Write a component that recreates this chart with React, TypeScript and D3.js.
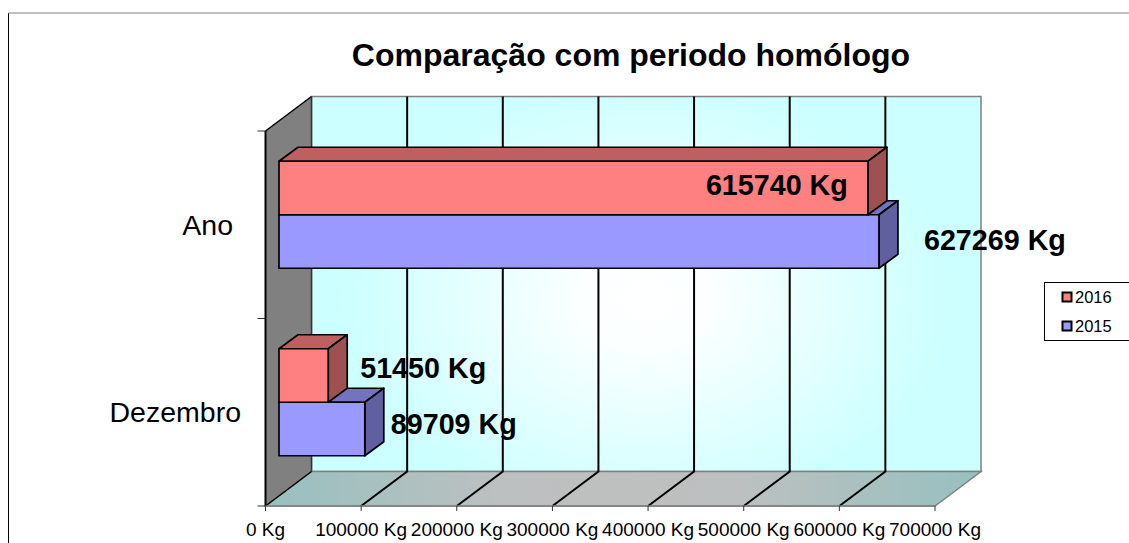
import React from "react";
import * as d3 from "d3";

const categories = ["Ano", "Dezembro"];
const seriesNames = ["2016", "2015"];
const values2016 = [615740, 51450];
const values2015 = [627269, 89709];
const xTicks = [0, 100000, 200000, 300000, 400000, 500000, 600000, 700000];

const W = 1129, H = 543;
const FONT = "'Liberation Sans', Arial, sans-serif";
const x = d3.scaleLinear().domain([0, 700000]).range([265.5, 935]);
const yBand = d3.scaleBand<string>().domain(categories).range([131, 506]);
const rowH = 53.5;
const depth = { x: 46, y: -34.5 };
const barDepth = { x: 19, y: -14 };
const barShift = { x: 13.5, y: -10 };
const fmt = (v: number) => `${v} Kg`;
const pts = (p: number[][]) => p.map((q) => q.join(",")).join(" ");

const top0 = yBand.range()[0], bot0 = yBand.range()[1];
const x0 = x(0), x1 = x(700000);

const colors: Record<string, { front: string; top: string; side: string }> = {
  "2016": { front: "#FF8080", top: "#BF6060", side: "#9F5050" },
  "2015": { front: "#9999FF", top: "#7373BF", side: "#6060A0" },
};

// label offsets from bar end / bar centre, per series then category
const labelDx: Record<string, number[]> = { "2016": [-162, 32], "2015": [45, 26] };
const labelDy: Record<string, number[]> = { "2016": [7, 2], "2015": [8, 5] };

function Bar({ name, v, cat, row }: { name: string; v: number; cat: string; row: number }) {
  const c = colors[name];
  const center = yBand(cat)! + yBand.bandwidth() / 2;
  const yT = center - rowH + row * rowH + barShift.y;
  const yB = yT + rowH;
  const xL = x(0) + barShift.x;
  const xR = x(v) + barShift.x;
  const dx = barDepth.x, dy = barDepth.y;
  const s = { stroke: "#000", strokeWidth: 1.7, strokeLinejoin: "round" as const };
  return (
    <g>
      <polygon points={pts([[xL, yT], [xR, yT], [xR + dx, yT + dy], [xL + dx, yT + dy]])} fill={c.top} {...s} />
      <polygon points={pts([[xR, yT], [xR + dx, yT + dy], [xR + dx, yB + dy], [xR, yB]])} fill={c.side} {...s} />
      <rect x={xL} y={yT} width={xR - xL} height={rowH} fill={c.front} {...s} />
    </g>
  );
}

export default function App() {
  const rows = categories.map((cat, i) => ({ cat, v16: values2016[i], v15: values2015[i], i }));
  const yOf = (cat: string, row: number) =>
    yBand(cat)! + yBand.bandwidth() / 2 - rowH + row * rowH + barShift.y + rowH / 2;
  return (
    <svg width={W} height={H} style={{ position: "absolute", left: 0, top: 0, background: "#fff" }} fontFamily={FONT}>
      <defs>
        <radialGradient id="wall" gradientUnits="userSpaceOnUse" cx={646} cy={300} r={330}
          gradientTransform="translate(646 300) scale(1 0.72) translate(-646 -300)">
          <stop offset="0" stopColor="#FFFFFF" />
          <stop offset="0.2" stopColor="#FBFFFF" />
          <stop offset="0.92" stopColor="#CCFFFF" />
          <stop offset="1" stopColor="#CCFFFF" />
        </radialGradient>
        <radialGradient id="floor" gradientUnits="userSpaceOnUse" cx={620} cy={470} r={350}>
          <stop offset="0" stopColor="#BFBFBF" />
          <stop offset="0.35" stopColor="#BCC0C0" />
          <stop offset="1" stopColor="#99C0C0" />
        </radialGradient>
      </defs>

      <line x1={8.5} y1={13} x2={8.5} y2={H} stroke="#000" strokeWidth={1} />
      <line x1={8} y1={13} x2={W} y2={13} stroke="#808080" strokeWidth={1} />

      <text x={631} y={66} textAnchor="middle" fontSize={32} fontWeight="bold">Comparação com periodo homólogo</text>

      {/* back wall */}
      <rect x={x0 + depth.x} y={top0 + depth.y} width={x1 - x0} height={bot0 - top0} fill="url(#wall)" stroke="#808080" strokeWidth={1.5} />
      {/* floor */}
      <polygon
        points={pts([[x0, bot0], [x1, bot0], [x1 + depth.x, bot0 + depth.y], [x0 + depth.x, bot0 + depth.y]])}
        fill="url(#floor)" stroke="#808080" strokeWidth={1.5}
      />
      {/* left wall */}
      <polygon
        points={pts([[x0, top0], [x0 + depth.x, top0 + depth.y], [x0 + depth.x, bot0 + depth.y], [x0, bot0]])}
        fill="#808080"
      />
      <line x1={x0} y1={top0} x2={x0} y2={bot0} stroke="#000" strokeWidth={2} />
      <line x1={x0} y1={top0} x2={x0 + depth.x} y2={top0 + depth.y} stroke="#000" strokeWidth={1.5} />
      <line x1={x0 + depth.x} y1={top0 + depth.y} x2={x0 + depth.x} y2={bot0 + depth.y} stroke="#333" strokeWidth={1.5} />
      <line x1={x0} y1={bot0} x2={x0 + depth.x} y2={bot0 + depth.y} stroke="#000" strokeWidth={1.5} />

      {/* gridlines */}
      {xTicks.slice(1, -1).map((t) => (
        <g key={t} stroke="#000" strokeWidth={2} fill="none">
          <polyline points={pts([[x(t), bot0], [x(t) + depth.x, bot0 + depth.y], [x(t) + depth.x, top0 + depth.y]])} />
        </g>
      ))}

      {/* axes */}
      <line x1={x0} y1={bot0} x2={x1} y2={bot0} stroke="#808080" strokeWidth={1.5} />
      {[...yBand.domain().map((c) => yBand(c)!), bot0].map((y) => (
        <line key={y} x1={x0 - 8} x2={x0} y1={y} y2={y} stroke="#333" strokeWidth={1} />
      ))}
      {xTicks.map((t) => (
        <g key={t}>
          <line x1={x(t)} x2={x(t)} y1={bot0} y2={bot0 + 5} stroke="#333" strokeWidth={1} />
          <text x={x(t)} y={536} textAnchor="middle" fontSize={19}>{fmt(t)}</text>
        </g>
      ))}

      {/* bars */}
      {rows.map((r) => (
        <g key={r.cat}>
          <Bar name="2015" v={r.v15} cat={r.cat} row={1} />
          <Bar name="2016" v={r.v16} cat={r.cat} row={0} />
        </g>
      ))}

      {/* category labels */}
      {categories.map((c) => (
        <text key={c} x={c === "Ano" ? 233 : 241} y={yBand(c)! + yBand.bandwidth() / 2 + 10} textAnchor="end" fontSize={28.5}>{c}</text>
      ))}

      {/* value labels */}
      {rows.map((r) => (
        <g key={r.cat} fontSize={28.7} fontWeight="bold">
          <text x={x(r.v16) + barShift.x + labelDx["2016"][r.i]} y={yOf(r.cat, 0) + labelDy["2016"][r.i]}>{fmt(r.v16)}</text>
          <text x={x(r.v15) + barShift.x + labelDx["2015"][r.i]} y={yOf(r.cat, 1) + labelDy["2015"][r.i]}>{fmt(r.v15)}</text>
        </g>
      ))}

      {/* legend */}
      <rect x={1044.5} y={282.5} width={100} height={58} fill="#fff" stroke="#000" strokeWidth={1} />
      {seriesNames.map((n, i) => (
        <g key={n}>
          <rect x={1062.5} y={292.5 + i * 29} width={9} height={9} fill={colors[n].front} stroke="#000" strokeWidth={2} />
          <text x={1075} y={303 + i * 29} fontSize={16.5}>{n}</text>
        </g>
      ))}
    </svg>
  );
}
